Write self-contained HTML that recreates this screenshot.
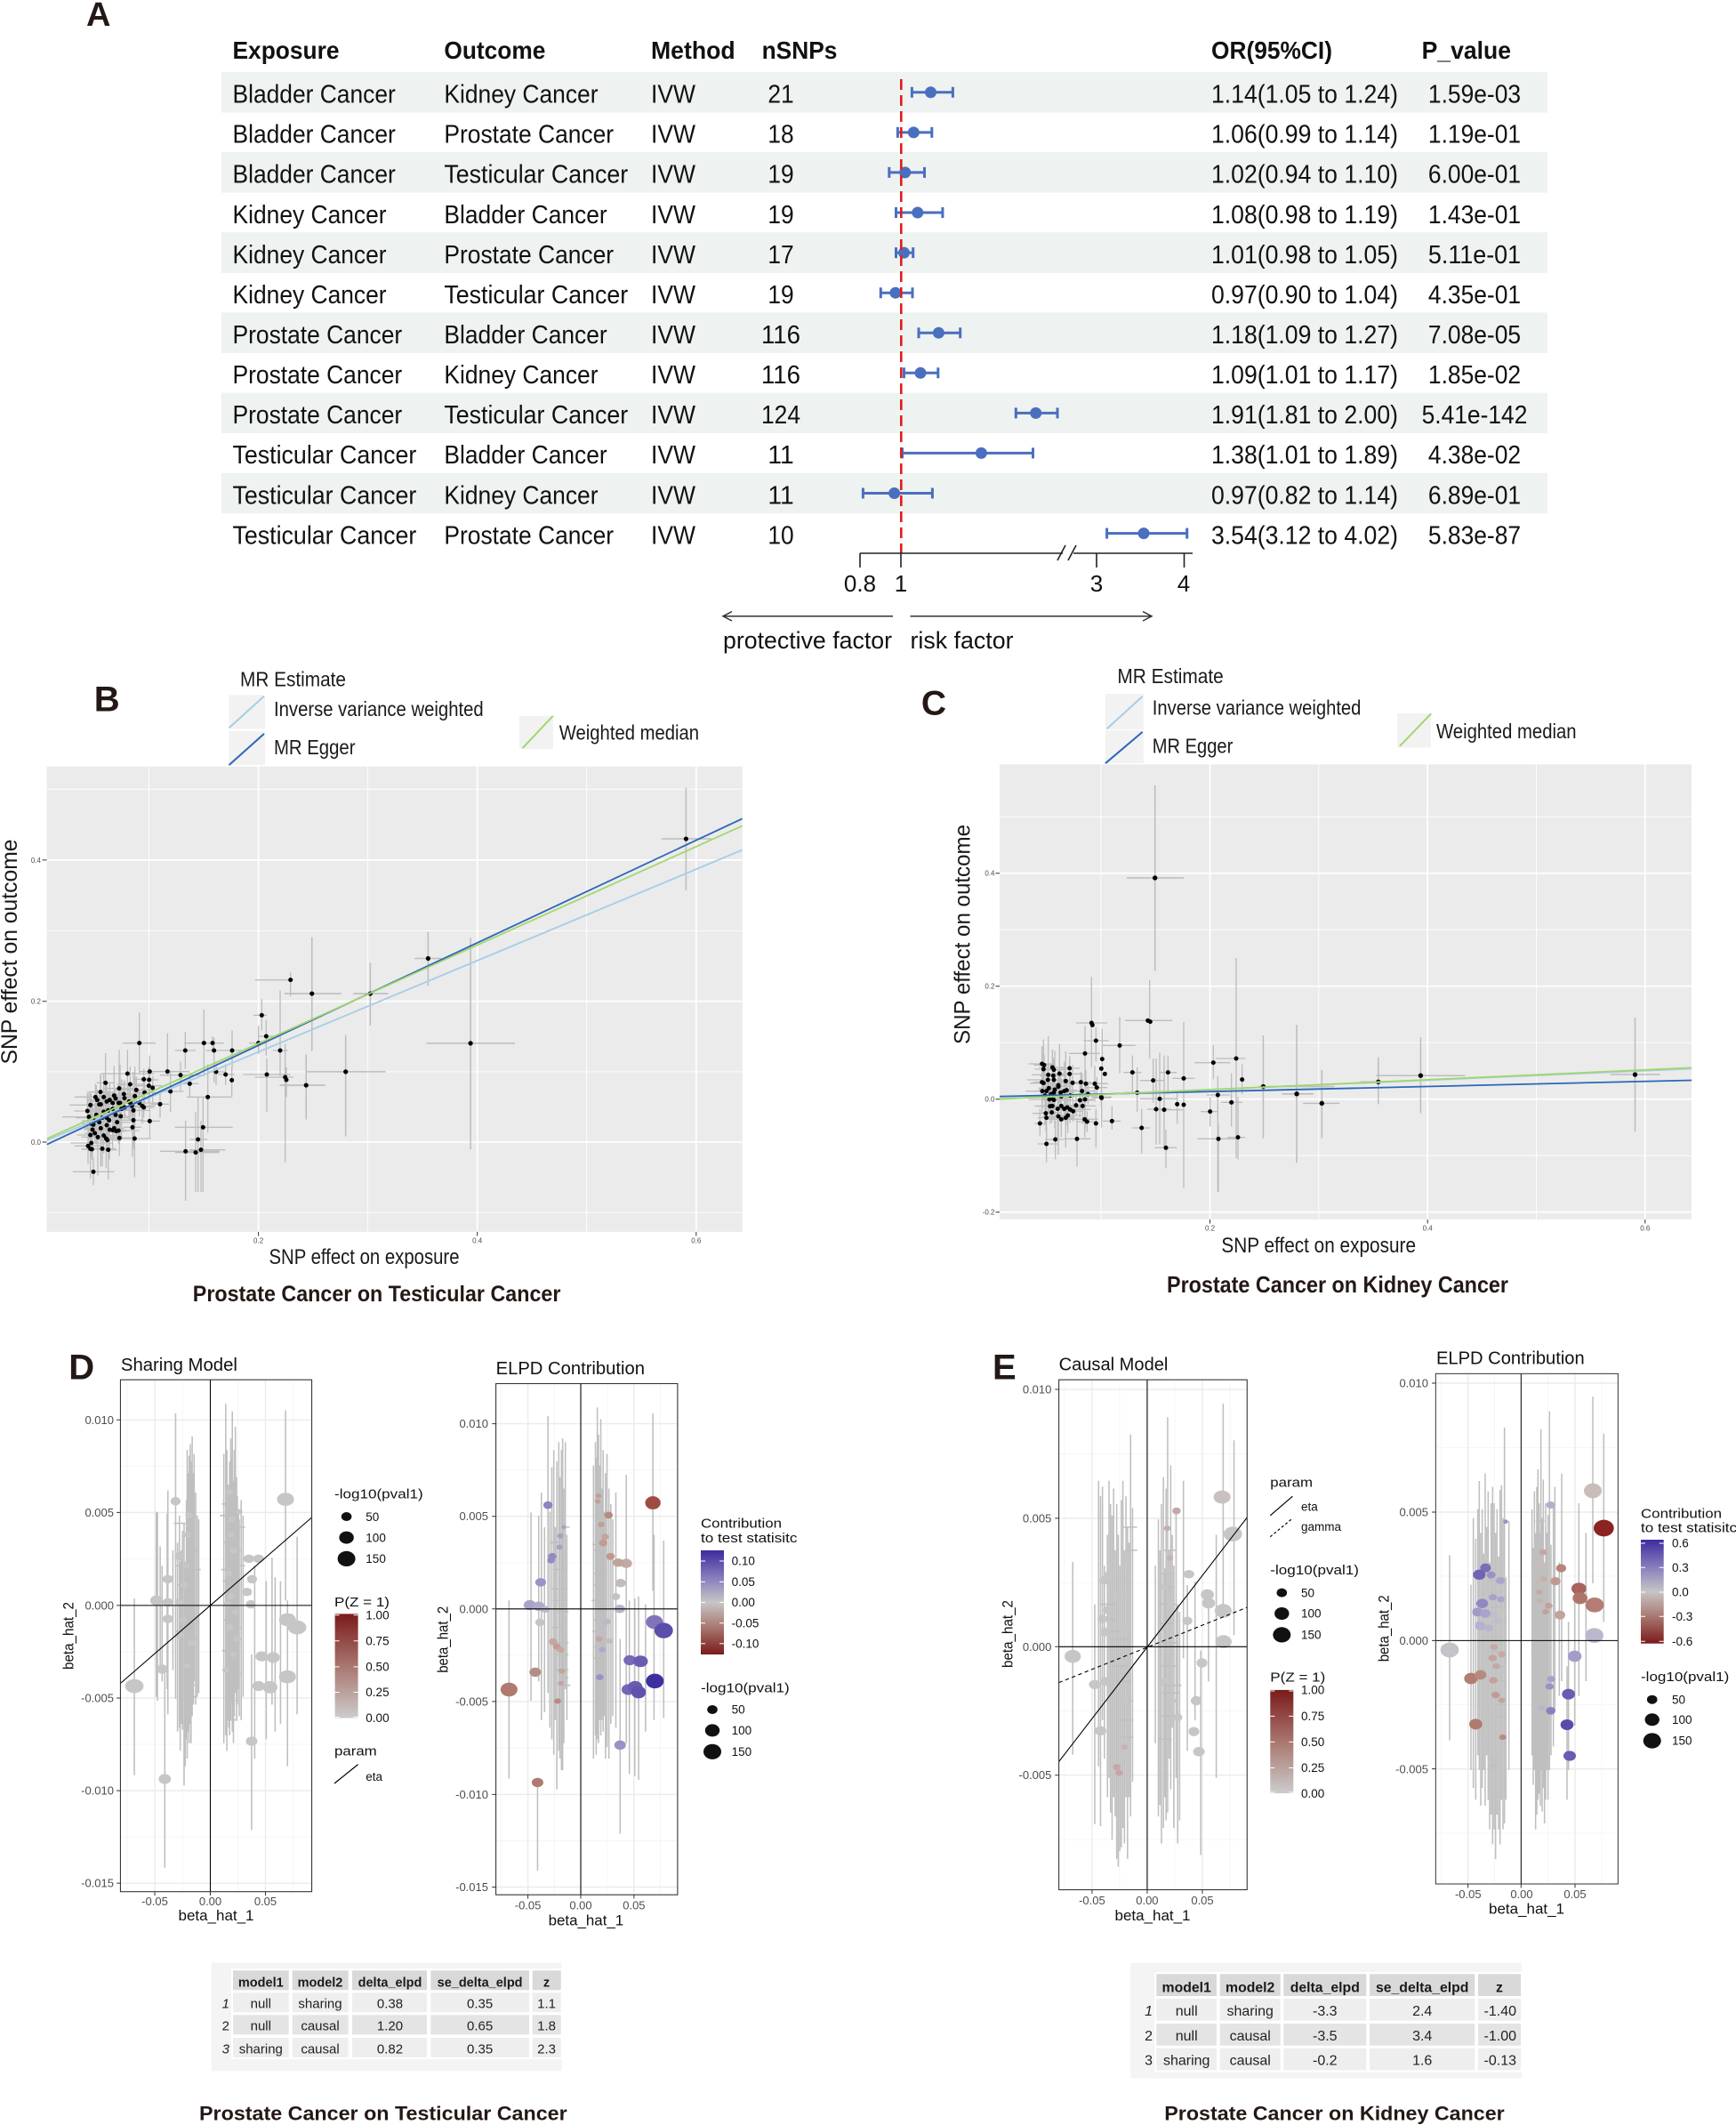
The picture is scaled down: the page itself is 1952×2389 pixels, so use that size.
<!DOCTYPE html>
<html><head><meta charset="utf-8"><style>
html,body{margin:0;padding:0;background:#fff;}
svg{display:block;}
text{font-family:"Liberation Sans",Arial,sans-serif;}
</style></head><body>
<svg xmlns="http://www.w3.org/2000/svg" width="1952" height="2389" viewBox="0 0 1952 2389">
<defs>
<linearGradient id="gr" x1="0" y1="0" x2="0" y2="1"><stop offset="0" stop-color="#7a1b1b"/><stop offset="0.5" stop-color="#a9766f"/><stop offset="1" stop-color="#cccccc"/></linearGradient>
<linearGradient id="gb" x1="0" y1="0" x2="0" y2="1"><stop offset="0" stop-color="#3d2c9e"/><stop offset="0.25" stop-color="#8479bb"/><stop offset="0.5" stop-color="#c6c6c6"/><stop offset="0.75" stop-color="#a7746d"/><stop offset="1" stop-color="#7a1b1b"/></linearGradient>
<path id="e1" d="M0 -60V60M-45 0H45"/>
<path id="e2" d="M0 -100V100M-30 0H30"/>
<path id="e3" d="M0 -45V45M-70 0H70"/>
<path id="e4" d="M0 -130V130M-55 0H55"/>
<path id="e5" d="M0 -80V80M-90 0H90"/>
<path id="e6" d="M0 -35V35M-35 0H35"/>
<circle id="d" r="7.5"/>
<clipPath id="cB"><rect x="52.6" y="861.7" width="782.2" height="523.2"/></clipPath>
<clipPath id="cC"><rect x="1124" y="859.4" width="778" height="511.6"/></clipPath>
</defs>
<rect width="1952" height="2389" fill="#fff"/>

<!-- ============ PANEL A ============ -->
<text x="97" y="29" font-size="38" font-weight="bold" fill="#231815">A</text>
<g fill="#eef2f0">
<rect x="249" y="81" width="1491" height="45.5"/>
<rect x="249" y="171.1" width="1491" height="45.5"/>
<rect x="249" y="261.3" width="1491" height="45.5"/>
<rect x="249" y="351.4" width="1491" height="45.5"/>
<rect x="249" y="441.6" width="1491" height="45.5"/>
<rect x="249" y="531.7" width="1491" height="45.5"/>
</g>
<g font-size="28" font-weight="bold" fill="#111">
<text x="261.5" y="66" textLength="120" lengthAdjust="spacingAndGlyphs">Exposure</text>
<text x="499.4" y="66" textLength="114" lengthAdjust="spacingAndGlyphs">Outcome</text>
<text x="732" y="66" textLength="94.6" lengthAdjust="spacingAndGlyphs">Method</text>
<text x="856.6" y="66" textLength="84.8" lengthAdjust="spacingAndGlyphs">nSNPs</text>
<text x="1362" y="66" textLength="136" lengthAdjust="spacingAndGlyphs">OR(95%CI)</text>
<text x="1598.6" y="66" textLength="100.4" lengthAdjust="spacingAndGlyphs">P_value</text>
</g>
<g font-size="29" fill="#111">
<text x="261.5" y="115.6" textLength="183.3" lengthAdjust="spacingAndGlyphs">Bladder Cancer</text>
<text x="261.5" y="160.7" textLength="183.3" lengthAdjust="spacingAndGlyphs">Bladder Cancer</text>
<text x="261.5" y="205.7" textLength="183.3" lengthAdjust="spacingAndGlyphs">Bladder Cancer</text>
<text x="261.5" y="250.8" textLength="173.1" lengthAdjust="spacingAndGlyphs">Kidney Cancer</text>
<text x="261.5" y="295.9" textLength="173.1" lengthAdjust="spacingAndGlyphs">Kidney Cancer</text>
<text x="261.5" y="341" textLength="173.1" lengthAdjust="spacingAndGlyphs">Kidney Cancer</text>
<text x="261.5" y="386" textLength="190.7" lengthAdjust="spacingAndGlyphs">Prostate Cancer</text>
<text x="261.5" y="431.1" textLength="190.7" lengthAdjust="spacingAndGlyphs">Prostate Cancer</text>
<text x="261.5" y="476.2" textLength="190.7" lengthAdjust="spacingAndGlyphs">Prostate Cancer</text>
<text x="261.5" y="521.2" textLength="206.8" lengthAdjust="spacingAndGlyphs">Testicular Cancer</text>
<text x="261.5" y="566.3" textLength="206.8" lengthAdjust="spacingAndGlyphs">Testicular Cancer</text>
<text x="261.5" y="611.4" textLength="206.8" lengthAdjust="spacingAndGlyphs">Testicular Cancer</text>

<text x="499.4" y="115.6" textLength="173.1" lengthAdjust="spacingAndGlyphs">Kidney Cancer</text>
<text x="499.4" y="160.7" textLength="190.7" lengthAdjust="spacingAndGlyphs">Prostate Cancer</text>
<text x="499.4" y="205.7" textLength="206.8" lengthAdjust="spacingAndGlyphs">Testicular Cancer</text>
<text x="499.4" y="250.8" textLength="183.3" lengthAdjust="spacingAndGlyphs">Bladder Cancer</text>
<text x="499.4" y="295.9" textLength="190.7" lengthAdjust="spacingAndGlyphs">Prostate Cancer</text>
<text x="499.4" y="341" textLength="206.8" lengthAdjust="spacingAndGlyphs">Testicular Cancer</text>
<text x="499.4" y="386" textLength="183.3" lengthAdjust="spacingAndGlyphs">Bladder Cancer</text>
<text x="499.4" y="431.1" textLength="173.1" lengthAdjust="spacingAndGlyphs">Kidney Cancer</text>
<text x="499.4" y="476.2" textLength="206.8" lengthAdjust="spacingAndGlyphs">Testicular Cancer</text>
<text x="499.4" y="521.2" textLength="183.3" lengthAdjust="spacingAndGlyphs">Bladder Cancer</text>
<text x="499.4" y="566.3" textLength="173.1" lengthAdjust="spacingAndGlyphs">Kidney Cancer</text>
<text x="499.4" y="611.4" textLength="190.7" lengthAdjust="spacingAndGlyphs">Prostate Cancer</text>

<text x="732" y="115.6" textLength="50" lengthAdjust="spacingAndGlyphs">IVW</text>
<text x="732" y="160.7" textLength="50" lengthAdjust="spacingAndGlyphs">IVW</text>
<text x="732" y="205.7" textLength="50" lengthAdjust="spacingAndGlyphs">IVW</text>
<text x="732" y="250.8" textLength="50" lengthAdjust="spacingAndGlyphs">IVW</text>
<text x="732" y="295.9" textLength="50" lengthAdjust="spacingAndGlyphs">IVW</text>
<text x="732" y="341" textLength="50" lengthAdjust="spacingAndGlyphs">IVW</text>
<text x="732" y="386" textLength="50" lengthAdjust="spacingAndGlyphs">IVW</text>
<text x="732" y="431.1" textLength="50" lengthAdjust="spacingAndGlyphs">IVW</text>
<text x="732" y="476.2" textLength="50" lengthAdjust="spacingAndGlyphs">IVW</text>
<text x="732" y="521.2" textLength="50" lengthAdjust="spacingAndGlyphs">IVW</text>
<text x="732" y="566.3" textLength="50" lengthAdjust="spacingAndGlyphs">IVW</text>
<text x="732" y="611.4" textLength="50" lengthAdjust="spacingAndGlyphs">IVW</text>
</g>
<g font-size="29" fill="#111" text-anchor="middle">
<text x="878" y="115.6" textLength="29.3" lengthAdjust="spacingAndGlyphs">21</text>
<text x="878" y="160.7" textLength="29.3" lengthAdjust="spacingAndGlyphs">18</text>
<text x="878" y="205.7" textLength="29.3" lengthAdjust="spacingAndGlyphs">19</text>
<text x="878" y="250.8" textLength="29.3" lengthAdjust="spacingAndGlyphs">19</text>
<text x="878" y="295.9" textLength="29.3" lengthAdjust="spacingAndGlyphs">17</text>
<text x="878" y="341" textLength="29.3" lengthAdjust="spacingAndGlyphs">19</text>
<text x="878" y="386" textLength="44" lengthAdjust="spacingAndGlyphs">116</text>
<text x="878" y="431.1" textLength="44" lengthAdjust="spacingAndGlyphs">116</text>
<text x="878" y="476.2" textLength="44" lengthAdjust="spacingAndGlyphs">124</text>
<text x="878" y="521.2" textLength="29.3" lengthAdjust="spacingAndGlyphs">11</text>
<text x="878" y="566.3" textLength="29.3" lengthAdjust="spacingAndGlyphs">11</text>
<text x="878" y="611.4" textLength="29.3" lengthAdjust="spacingAndGlyphs">10</text>

<text x="1658" y="115.6" textLength="104.2" lengthAdjust="spacingAndGlyphs">1.59e-03</text>
<text x="1658" y="160.7" textLength="104.2" lengthAdjust="spacingAndGlyphs">1.19e-01</text>
<text x="1658" y="205.7" textLength="104.2" lengthAdjust="spacingAndGlyphs">6.00e-01</text>
<text x="1658" y="250.8" textLength="104.2" lengthAdjust="spacingAndGlyphs">1.43e-01</text>
<text x="1658" y="295.9" textLength="104.2" lengthAdjust="spacingAndGlyphs">5.11e-01</text>
<text x="1658" y="341" textLength="104.2" lengthAdjust="spacingAndGlyphs">4.35e-01</text>
<text x="1658" y="386" textLength="104.2" lengthAdjust="spacingAndGlyphs">7.08e-05</text>
<text x="1658" y="431.1" textLength="104.2" lengthAdjust="spacingAndGlyphs">1.85e-02</text>
<text x="1658" y="476.2" textLength="118.8" lengthAdjust="spacingAndGlyphs">5.41e-142</text>
<text x="1658" y="521.2" textLength="104.2" lengthAdjust="spacingAndGlyphs">4.38e-02</text>
<text x="1658" y="566.3" textLength="104.2" lengthAdjust="spacingAndGlyphs">6.89e-01</text>
<text x="1658" y="611.4" textLength="104.2" lengthAdjust="spacingAndGlyphs">5.83e-87</text>
</g>
<g font-size="29" fill="#111">
<text x="1362" y="115.6" textLength="210" lengthAdjust="spacingAndGlyphs">1.14(1.05 to 1.24)</text>
<text x="1362" y="160.7" textLength="210" lengthAdjust="spacingAndGlyphs">1.06(0.99 to 1.14)</text>
<text x="1362" y="205.7" textLength="210" lengthAdjust="spacingAndGlyphs">1.02(0.94 to 1.10)</text>
<text x="1362" y="250.8" textLength="210" lengthAdjust="spacingAndGlyphs">1.08(0.98 to 1.19)</text>
<text x="1362" y="295.9" textLength="210" lengthAdjust="spacingAndGlyphs">1.01(0.98 to 1.05)</text>
<text x="1362" y="341" textLength="210" lengthAdjust="spacingAndGlyphs">0.97(0.90 to 1.04)</text>
<text x="1362" y="386" textLength="210" lengthAdjust="spacingAndGlyphs">1.18(1.09 to 1.27)</text>
<text x="1362" y="431.1" textLength="210" lengthAdjust="spacingAndGlyphs">1.09(1.01 to 1.17)</text>
<text x="1362" y="476.2" textLength="210" lengthAdjust="spacingAndGlyphs">1.91(1.81 to 2.00)</text>
<text x="1362" y="521.2" textLength="210" lengthAdjust="spacingAndGlyphs">1.38(1.01 to 1.89)</text>
<text x="1362" y="566.3" textLength="210" lengthAdjust="spacingAndGlyphs">0.97(0.82 to 1.14)</text>
<text x="1362" y="611.4" textLength="210" lengthAdjust="spacingAndGlyphs">3.54(3.12 to 4.02)</text>
</g>
<!-- forest -->
<path fill="none" stroke="#4a6fbf" stroke-width="3" d="M1025.4 103.8H1071.4M1025.4 97.8V109.8M1071.4 97.8V109.8
M1009.4 148.9H1047.8M1009.4 142.9V154.9M1047.8 142.9V154.9
M999.8 193.9H1039.5M999.8 187.9V199.9M1039.5 187.9V199.9
M1007.5 239H1059.9M1007.5 233V245M1059.9 233V245
M1007.5 284.1H1026.7M1007.5 278.1V290.1M1026.7 278.1V290.1
M990.3 329.2H1026M990.3 323.2V335.2M1026 323.2V335.2
M1033 374.2H1079.7M1033 368.2V380.2M1079.7 368.2V380.2
M1016.5 419.3H1054.8M1016.5 413.3V425.3M1054.8 413.3V425.3
M1142.3 464.4H1189M1142.3 458.4V470.4M1189 458.4V470.4
M1014.5 509.4H1161.5M1014.5 503.4V515.4M1161.5 503.4V515.4
M970.4 554.5H1048.4M970.4 548.5V560.5M1048.4 548.5V560.5
M1244.6 599.6H1334.7M1244.6 593.6V605.6M1334.7 593.6V605.6"/>
<g fill="#4a6fbf">
<circle cx="1046.5" cy="103.8" r="6.5"/><circle cx="1027.3" cy="148.9" r="6.5"/><circle cx="1017.7" cy="193.9" r="6.5"/>
<circle cx="1031.8" cy="239" r="6.5"/><circle cx="1016.5" cy="284.1" r="6.5"/><circle cx="1006.9" cy="329.2" r="6.5"/>
<circle cx="1055.4" cy="374.2" r="6.5"/><circle cx="1035" cy="419.3" r="6.5"/><circle cx="1164.7" cy="464.4" r="6.5"/>
<circle cx="1103.4" cy="509.4" r="6.5"/><circle cx="1005.6" cy="554.5" r="6.5"/><circle cx="1286" cy="599.6" r="6.5"/>
</g>
<line x1="1013.3" y1="89" x2="1013.3" y2="622" stroke="#e41a1c" stroke-width="2.6" stroke-dasharray="12 6"/>
<path fill="none" stroke="#222" stroke-width="1.6" d="M967 622H1195M1207 622H1341M967 622V638M1013 622V638M1233 622V638M1331.5 622V638M1189 630L1198 613M1201 630L1210 613"/>
<g font-size="26" fill="#111" text-anchor="middle">
<text x="967" y="665">0.8</text><text x="1013" y="665">1</text><text x="1233" y="665">3</text><text x="1331" y="665">4</text>
</g>
<path fill="none" stroke="#333" stroke-width="1.5" d="M813 692.8H1004M1023.5 692.8H1295M823 687.5L813 692.8L823 698M1285 687.5L1295 692.8L1285 698"/>
<text x="813" y="729" font-size="27" fill="#111" textLength="190" lengthAdjust="spacingAndGlyphs">protective factor</text>
<text x="1023.5" y="729" font-size="27" fill="#111" textLength="116" lengthAdjust="spacingAndGlyphs">risk factor</text>

<!-- ============ PANEL B ============ -->
<text x="105.7" y="799.4" font-size="40" font-weight="bold" fill="#231815">B</text>
<g font-size="23" fill="#1a1a1a">
<text x="270" y="771.7" textLength="119" lengthAdjust="spacingAndGlyphs">MR Estimate</text>
<text x="308" y="804.8" textLength="235.7" lengthAdjust="spacingAndGlyphs">Inverse variance weighted</text>
<text x="308" y="848.2" textLength="91.5" lengthAdjust="spacingAndGlyphs">MR Egger</text>
<text x="628.8" y="831.4" textLength="157.2" lengthAdjust="spacingAndGlyphs">Weighted median</text>
</g>
<rect x="257.5" y="781.5" width="40.5" height="38" fill="#f2f2f2"/>
<rect x="257.5" y="822" width="40.5" height="38" fill="#f2f2f2"/>
<rect x="584" y="804.8" width="38" height="37.4" fill="#f2f2f2"/>
<line x1="257.5" y1="818.4" x2="297" y2="782.6" stroke="#a6cde6" stroke-width="2"/>
<line x1="257.5" y1="860.1" x2="297" y2="824.9" stroke="#2c66b8" stroke-width="2"/>
<line x1="587.6" y1="841.1" x2="621.8" y2="804.8" stroke="#a3d66d" stroke-width="2"/>

<rect x="52.6" y="861.7" width="782.2" height="523.2" fill="#ebebeb"/>
<path stroke="#fff" stroke-width="0.9" fill="none" d="M167.5 861.7V1384.9M413.6 861.7V1384.9M659.7 861.7V1384.9M52.6 887.2H834.8M52.6 1046.6H834.8M52.6 1204.9H834.8M52.6 1363.2H834.8"/>
<path stroke="#fff" stroke-width="1.7" fill="none" d="M290.6 861.7V1384.9M536.7 861.7V1384.9M782.8 861.7V1384.9M52.6 966.9H834.8M52.6 1125.7H834.8M52.6 1284H834.8"/>
<path stroke="#333" stroke-width="1" fill="none" d="M47.5 966.9H52.6M47.5 1125.7H52.6M47.5 1284H52.6M290.6 1384.9V1389.5M536.7 1384.9V1389.5M782.8 1384.9V1389.5"/>
<g font-size="8" fill="#4d4d4d">
<text x="46" y="969.8" text-anchor="end">0.4</text><text x="46" y="1128.6" text-anchor="end">0.2</text><text x="46" y="1286.9" text-anchor="end">0.0</text>
<text x="290.6" y="1397.5" text-anchor="middle">0.2</text><text x="536.7" y="1397.5" text-anchor="middle">0.4</text><text x="782.8" y="1397.5" text-anchor="middle">0.6</text>
</g>
<g clip-path="url(#cB)">
<g transform="translate(0 730) scale(0.5421)">
<path stroke="#bdbdbd" stroke-width="2.8" fill="none" d="M1423 287V500M1372 393H1475M888 586V698M860 641H915M976 598V1037M884 817H1068M768 650V780M733 714H805M717 800V1010M636 876H800M647 597V833M590 714H708M635 840V975M580 904H675"/>
<g fill="#000"><circle cx="1423" cy="393" r="4.8"/><circle cx="888" cy="641" r="4.8"/><circle cx="976" cy="817" r="4.8"/><circle cx="768" cy="714" r="4.8"/><circle cx="717" cy="876" r="4.8"/><circle cx="647" cy="714" r="4.8"/><circle cx="635" cy="904" r="4.8"/></g>
</g>
<g transform="translate(80 1100) scale(0.33333)">
<g stroke="#bdbdbd" stroke-width="4" fill="none">
<path d="M230 115V320M175 218H285M385 180V305M350 243H420M448 105V330M380 218H515M477 195V245M440 218H515M482 200V350M455 243H510M543 175V305M505 243H580M643 70V175M615 124H660M632 160V255M600 218H660M658 140V260M630 195H690M705 40V330M680 243H730M660 270V450M580 324H740M722 220V620M620 333H750M726 300V400M461 290V520M390 400H540M445 400V720M350 502H545M428 400V720M400 543H460M386 480V750M300 583H500M420 450V720M350 587H500M438 480V720M400 578H520M325 185V330M255 314H400M369 280V380M300 326H440M335 310V450M300 381H380M300 380V470M270 424H330M489 280V360M460 315H520M521 290V360M495 324H550M542 300V400M400 320V400M370 355H430M265 260V400M230 314H300M263 300V420M235 342H295M275 330V420M248 330V440M215 385H285M265 420V540M235 481H300M740 -20V60M620 5H750"/>
<use href="#e6" x="245" y="340"/><use href="#e1" x="262" y="362"/><use href="#e2" x="215" y="397"/><use href="#e3" x="220" y="376"/><use href="#e1" x="199" y="357"/><use href="#e5" x="190" y="321"/><use href="#e4" x="162" y="371"/><use href="#e2" x="116" y="352"/><use href="#e1" x="99" y="383"/><use href="#e3" x="82" y="400"/><use href="#e6" x="88" y="410"/><use href="#e5" x="110" y="400"/><use href="#e1" x="130" y="410"/><use href="#e2" x="145" y="395"/><use href="#e6" x="150" y="405"/><use href="#e3" x="178" y="390"/><use href="#e1" x="180" y="404"/><use href="#e4" x="165" y="420"/><use href="#e6" x="140" y="420"/><use href="#e1" x="120" y="415"/><use href="#e2" x="100" y="425"/><use href="#e6" x="95" y="425"/><use href="#e3" x="65" y="427"/><use href="#e1" x="55" y="447"/><use href="#e5" x="60" y="467"/><use href="#e2" x="85" y="460"/><use href="#e6" x="110" y="450"/><use href="#e1" x="125" y="445"/><use href="#e3" x="140" y="440"/><use href="#e6" x="150" y="460"/><use href="#e2" x="170" y="440"/><use href="#e1" x="195" y="415"/><use href="#e6" x="205" y="430"/><use href="#e4" x="210" y="445"/><use href="#e3" x="230" y="420"/><use href="#e1" x="240" y="430"/><use href="#e6" x="245" y="435"/><use href="#e2" x="68" y="490"/><use href="#e1" x="80" y="480"/><use href="#e6" x="95" y="485"/><use href="#e5" x="105" y="470"/><use href="#e1" x="120" y="470"/><use href="#e3" x="128" y="478"/><use href="#e6" x="75" y="493"/><use href="#e4" x="100" y="505"/><use href="#e1" x="120" y="495"/><use href="#e2" x="130" y="510"/><use href="#e6" x="145" y="505"/><use href="#e1" x="155" y="485"/><use href="#e3" x="160" y="513"/><use href="#e6" x="152" y="515"/><use href="#e1" x="140" y="512"/><use href="#e2" x="72" y="510"/><use href="#e1" x="65" y="528"/><use href="#e6" x="80" y="522"/><use href="#e4" x="90" y="535"/><use href="#e1" x="110" y="530"/><use href="#e2" x="118" y="540"/><use href="#e6" x="122" y="545"/><use href="#e1" x="163" y="538"/><use href="#e2" x="207" y="502"/><use href="#e6" x="210" y="478"/><use href="#e4" x="214" y="540"/><use href="#e1" x="57" y="565"/><use href="#e2" x="65" y="575"/><use href="#e6" x="70" y="576"/><use href="#e3" x="68" y="555"/><use href="#e1" x="105" y="574"/><use href="#e2" x="125" y="578"/><use href="#e3" x="75" y="652"/><use href="#e6" x="167" y="465"/><use href="#e1" x="200" y="420"/><use href="#e6" x="180" y="435"/><use href="#e1" x="160" y="420"/>
</g>
<g fill="#000">
<use href="#d" x="230" y="218"/><use href="#d" x="385" y="243"/><use href="#d" x="448" y="218"/><use href="#d" x="477" y="218"/><use href="#d" x="482" y="243"/><use href="#d" x="543" y="243"/><use href="#d" x="643" y="124"/><use href="#d" x="632" y="218"/><use href="#d" x="658" y="195"/><use href="#d" x="705" y="243"/><use href="#d" x="660" y="324"/><use href="#d" x="722" y="333"/><use href="#d" x="726" y="342"/><use href="#d" x="461" y="400"/><use href="#d" x="445" y="502"/><use href="#d" x="428" y="543"/><use href="#d" x="386" y="583"/><use href="#d" x="420" y="587"/><use href="#d" x="438" y="578"/><use href="#d" x="325" y="314"/><use href="#d" x="369" y="326"/><use href="#d" x="335" y="381"/><use href="#d" x="300" y="424"/><use href="#d" x="489" y="315"/><use href="#d" x="521" y="324"/><use href="#d" x="542" y="343"/><use href="#d" x="400" y="355"/><use href="#d" x="265" y="314"/><use href="#d" x="263" y="342"/><use href="#d" x="275" y="369"/><use href="#d" x="248" y="385"/><use href="#d" x="265" y="481"/><use href="#d" x="740" y="5"/>
<use href="#d" x="245" y="340"/><use href="#d" x="262" y="362"/><use href="#d" x="215" y="397"/><use href="#d" x="220" y="376"/><use href="#d" x="199" y="357"/><use href="#d" x="190" y="321"/><use href="#d" x="162" y="371"/><use href="#d" x="116" y="352"/><use href="#d" x="99" y="383"/><use href="#d" x="82" y="400"/><use href="#d" x="88" y="410"/><use href="#d" x="110" y="400"/><use href="#d" x="130" y="410"/><use href="#d" x="145" y="395"/><use href="#d" x="150" y="405"/><use href="#d" x="178" y="390"/><use href="#d" x="180" y="404"/><use href="#d" x="165" y="420"/><use href="#d" x="140" y="420"/><use href="#d" x="120" y="415"/><use href="#d" x="100" y="425"/><use href="#d" x="95" y="425"/><use href="#d" x="65" y="427"/><use href="#d" x="55" y="447"/><use href="#d" x="60" y="467"/><use href="#d" x="85" y="460"/><use href="#d" x="110" y="450"/><use href="#d" x="125" y="445"/><use href="#d" x="140" y="440"/><use href="#d" x="150" y="460"/><use href="#d" x="170" y="440"/><use href="#d" x="195" y="415"/><use href="#d" x="205" y="430"/><use href="#d" x="210" y="445"/><use href="#d" x="230" y="420"/><use href="#d" x="240" y="430"/><use href="#d" x="245" y="435"/><use href="#d" x="68" y="490"/><use href="#d" x="80" y="480"/><use href="#d" x="95" y="485"/><use href="#d" x="105" y="470"/><use href="#d" x="120" y="470"/><use href="#d" x="128" y="478"/><use href="#d" x="75" y="493"/><use href="#d" x="100" y="505"/><use href="#d" x="120" y="495"/><use href="#d" x="130" y="510"/><use href="#d" x="145" y="505"/><use href="#d" x="155" y="485"/><use href="#d" x="160" y="513"/><use href="#d" x="152" y="515"/><use href="#d" x="140" y="512"/><use href="#d" x="72" y="510"/><use href="#d" x="65" y="528"/><use href="#d" x="80" y="522"/><use href="#d" x="90" y="535"/><use href="#d" x="110" y="530"/><use href="#d" x="118" y="540"/><use href="#d" x="122" y="545"/><use href="#d" x="163" y="538"/><use href="#d" x="207" y="502"/><use href="#d" x="210" y="478"/><use href="#d" x="214" y="540"/><use href="#d" x="57" y="565"/><use href="#d" x="65" y="575"/><use href="#d" x="70" y="576"/><use href="#d" x="68" y="555"/><use href="#d" x="105" y="574"/><use href="#d" x="125" y="578"/><use href="#d" x="75" y="652"/><use href="#d" x="167" y="465"/><use href="#d" x="200" y="420"/><use href="#d" x="180" y="435"/><use href="#d" x="160" y="420"/>
</g>
</g>
<line x1="52.6" y1="1282" x2="834.8" y2="955.5" stroke="#a6cde6" stroke-width="1.8"/>
<line x1="52.6" y1="1286.7" x2="834.8" y2="920.3" stroke="#2c66b8" stroke-width="1.8"/>
<line x1="52.6" y1="1280.2" x2="834.8" y2="928.4" stroke="#a3d66d" stroke-width="1.8"/>
</g>
<text transform="translate(19 1070) rotate(-90)" text-anchor="middle" font-size="25" fill="#1a1a1a" textLength="253" lengthAdjust="spacingAndGlyphs">SNP effect on outcome</text>
<text x="302.5" y="1421" font-size="24" fill="#1a1a1a" textLength="214" lengthAdjust="spacingAndGlyphs">SNP effect on exposure</text>
<text x="216.8" y="1463" font-size="25" font-weight="bold" fill="#231815" textLength="413.6" lengthAdjust="spacingAndGlyphs">Prostate Cancer on Testicular Cancer</text>

<!-- ============ PANEL C ============ -->
<text x="1035.9" y="803.5" font-size="39" font-weight="bold" fill="#231815">C</text>
<g font-size="23" fill="#1a1a1a">
<text x="1256.4" y="768.2" textLength="119.4" lengthAdjust="spacingAndGlyphs">MR Estimate</text>
<text x="1295.8" y="803.5" textLength="234.6" lengthAdjust="spacingAndGlyphs">Inverse variance weighted</text>
<text x="1295.8" y="846.4" textLength="90.5" lengthAdjust="spacingAndGlyphs">MR Egger</text>
<text x="1615" y="830" textLength="157.6" lengthAdjust="spacingAndGlyphs">Weighted median</text>
</g>
<rect x="1242.9" y="780" width="42.9" height="40" fill="#f2f2f2"/>
<rect x="1242.9" y="821" width="42.9" height="37" fill="#f2f2f2"/>
<rect x="1571" y="802" width="38" height="38.5" fill="#f2f2f2"/>
<line x1="1244.6" y1="819.4" x2="1284.6" y2="782.9" stroke="#a6cde6" stroke-width="2"/>
<line x1="1242.9" y1="858.2" x2="1284.6" y2="822.9" stroke="#2c66b8" stroke-width="2"/>
<line x1="1573.9" y1="838.8" x2="1609.2" y2="802.3" stroke="#a3d66d" stroke-width="2"/>

<rect x="1124" y="859.4" width="778" height="511.6" fill="#ebebeb"/>
<path stroke="#fff" stroke-width="0.9" fill="none" d="M1237.9 859.4V1371M1482.8 859.4V1371M1727.5 859.4V1371M1124 918.2H1902M1124 1045.2H1902M1124 1172.2H1902M1124 1299.2H1902"/>
<path stroke="#fff" stroke-width="1.7" fill="none" d="M1360.5 859.4V1371M1605.2 859.4V1371M1849.8 859.4V1371M1124 981.7H1902M1124 1108.7H1902M1124 1235.7H1902M1124 1362.7H1902"/>
<path stroke="#333" stroke-width="1" fill="none" d="M1119.5 981.7H1124M1119.5 1108.7H1124M1119.5 1235.7H1124M1119.5 1362.7H1124M1360.5 1371V1375.5M1605.2 1371V1375.5M1849.8 1371V1375.5"/>
<g font-size="8" fill="#4d4d4d">
<text x="1118.5" y="984.6" text-anchor="end">0.4</text><text x="1118.5" y="1111.6" text-anchor="end">0.2</text><text x="1118.5" y="1238.6" text-anchor="end">0.0</text><text x="1118.5" y="1365.6" text-anchor="end">-0.2</text>
<text x="1360.5" y="1383.5" text-anchor="middle">0.2</text><text x="1605.2" y="1383.5" text-anchor="middle">0.4</text><text x="1849.8" y="1383.5" text-anchor="middle">0.6</text>
</g>
<g clip-path="url(#cC)">
<g transform="translate(1030 730) scale(0.588)">
<path stroke="#bdbdbd" stroke-width="2.6" fill="none" d="M457 260V615M403 437H512M664 738V935M655 836H800M728 718V982M700 850H760M776 804V935M740 868H810M884 780V870M850 827H920M965 742V887M880 815H1050M1375 704V922M1328 813H1423"/>
<g fill="#000"><circle cx="457" cy="437" r="4.6"/><circle cx="664" cy="836" r="4.6"/><circle cx="728" cy="850" r="4.6"/><circle cx="776" cy="868" r="4.6"/><circle cx="884" cy="827" r="4.6"/><circle cx="965" cy="815" r="4.6"/><circle cx="1375" cy="813" r="4.6"/></g>
</g>
<g transform="translate(1150 1090) scale(0.33333)">
<g stroke="#bdbdbd" stroke-width="4" fill="none">
<path d="M232 25V330M180 180H285M428 35V300M345 172H505M247 195V310M205 240H290M327 160V350M270 256H380M210 190V380M155 283H260M268 200V330M370 290V420M340 347H400M490 290V420M460 347H520M543 177V737M505 367H580M440 300V450M395 374H480M386 330V480M340 415H440M643 255V370M580 314H700M720 -39V636M650 300H750M740 320V420M658 360V750M620 423H700M704 350V530M670 448H740M632 430V530M600 479H660M660 520V750M590 571H720M726 430V640M690 566H750M462 280V590M395 436H520M521 410V520M450 300V590M420 471H500M477 290V600M440 473H540M401 470V620M370 534H430M483 540V670M445 601H520M301 460V540M270 511H330M247 470V600M183 500V665M140 571H230M110 510V640M75 573H140M80 530V650M50 588H120M58 470V560M40 519H80"/>
<use href="#e6" x="217" y="513"/><use href="#e1" x="209" y="505"/><use href="#e2" x="80" y="500"/><use href="#e1" x="78" y="485"/><use href="#e6" x="98" y="482"/><use href="#e4" x="120" y="495"/><use href="#e1" x="130" y="505"/><use href="#e2" x="145" y="500"/><use href="#e6" x="140" y="470"/><use href="#e1" x="150" y="465"/><use href="#e3" x="160" y="472"/><use href="#e6" x="170" y="478"/><use href="#e1" x="152" y="492"/><use href="#e2" x="118" y="470"/><use href="#e6" x="100" y="460"/><use href="#e1" x="92" y="461"/><use href="#e5" x="130" y="460"/><use href="#e1" x="65" y="318"/><use href="#e6" x="72" y="322"/><use href="#e2" x="70" y="336"/><use href="#e1" x="100" y="330"/><use href="#e6" x="105" y="338"/><use href="#e4" x="86" y="355"/><use href="#e1" x="103" y="358"/><use href="#e2" x="124" y="351"/><use href="#e6" x="158" y="333"/><use href="#e1" x="158" y="352"/><use href="#e3" x="85" y="372"/><use href="#e1" x="105" y="372"/><use href="#e6" x="120" y="390"/><use href="#e2" x="145" y="376"/><use href="#e1" x="168" y="382"/><use href="#e6" x="196" y="380"/><use href="#e3" x="213" y="385"/><use href="#e1" x="243" y="385"/><use href="#e6" x="250" y="398"/><use href="#e2" x="65" y="380"/><use href="#e1" x="70" y="383"/><use href="#e6" x="88" y="400"/><use href="#e4" x="108" y="405"/><use href="#e1" x="120" y="395"/><use href="#e2" x="140" y="410"/><use href="#e6" x="148" y="407"/><use href="#e1" x="105" y="415"/><use href="#e3" x="80" y="410"/><use href="#e6" x="95" y="420"/><use href="#e1" x="66" y="410"/><use href="#e2" x="75" y="425"/><use href="#e6" x="100" y="435"/><use href="#e1" x="130" y="428"/><use href="#e5" x="160" y="425"/><use href="#e1" x="200" y="410"/><use href="#e6" x="220" y="420"/><use href="#e2" x="210" y="438"/><use href="#e1" x="193" y="441"/><use href="#e6" x="180" y="458"/><use href="#e1" x="202" y="460"/><use href="#e2" x="266" y="433"/><use href="#e6" x="265" y="430"/><use href="#e1" x="128" y="415"/><use href="#e3" x="90" y="438"/><use href="#e6" x="105" y="440"/>
</g>
<g fill="#000">
<use href="#d" x="232" y="180"/><use href="#d" x="235" y="187"/><use href="#d" x="422" y="172"/><use href="#d" x="430" y="176"/><use href="#d" x="247" y="240"/><use href="#d" x="327" y="256"/><use href="#d" x="210" y="283"/><use href="#d" x="268" y="302"/><use href="#d" x="265" y="334"/><use href="#d" x="277" y="352"/><use href="#d" x="370" y="347"/><use href="#d" x="490" y="347"/><use href="#d" x="543" y="367"/><use href="#d" x="440" y="374"/><use href="#d" x="386" y="415"/><use href="#d" x="643" y="314"/><use href="#d" x="720" y="300"/><use href="#d" x="740" y="371"/><use href="#d" x="658" y="423"/><use href="#d" x="704" y="448"/><use href="#d" x="632" y="479"/><use href="#d" x="660" y="571"/><use href="#d" x="726" y="566"/><use href="#d" x="462" y="436"/><use href="#d" x="521" y="454"/><use href="#d" x="543" y="456"/><use href="#d" x="450" y="471"/><use href="#d" x="477" y="473"/><use href="#d" x="401" y="534"/><use href="#d" x="483" y="601"/><use href="#d" x="301" y="511"/><use href="#d" x="247" y="519"/><use href="#d" x="183" y="571"/><use href="#d" x="110" y="573"/><use href="#d" x="80" y="588"/><use href="#d" x="58" y="519"/>
<use href="#d" x="217" y="513"/><use href="#d" x="209" y="505"/><use href="#d" x="80" y="500"/><use href="#d" x="78" y="485"/><use href="#d" x="98" y="482"/><use href="#d" x="120" y="495"/><use href="#d" x="130" y="505"/><use href="#d" x="145" y="500"/><use href="#d" x="140" y="470"/><use href="#d" x="150" y="465"/><use href="#d" x="160" y="472"/><use href="#d" x="170" y="478"/><use href="#d" x="152" y="492"/><use href="#d" x="118" y="470"/><use href="#d" x="100" y="460"/><use href="#d" x="92" y="461"/><use href="#d" x="130" y="460"/><use href="#d" x="65" y="318"/><use href="#d" x="72" y="322"/><use href="#d" x="70" y="336"/><use href="#d" x="100" y="330"/><use href="#d" x="105" y="338"/><use href="#d" x="86" y="355"/><use href="#d" x="103" y="358"/><use href="#d" x="124" y="351"/><use href="#d" x="158" y="333"/><use href="#d" x="158" y="352"/><use href="#d" x="85" y="372"/><use href="#d" x="105" y="372"/><use href="#d" x="120" y="390"/><use href="#d" x="145" y="376"/><use href="#d" x="168" y="382"/><use href="#d" x="196" y="380"/><use href="#d" x="213" y="385"/><use href="#d" x="243" y="385"/><use href="#d" x="250" y="398"/><use href="#d" x="65" y="380"/><use href="#d" x="70" y="383"/><use href="#d" x="88" y="400"/><use href="#d" x="108" y="405"/><use href="#d" x="120" y="395"/><use href="#d" x="140" y="410"/><use href="#d" x="148" y="407"/><use href="#d" x="105" y="415"/><use href="#d" x="80" y="410"/><use href="#d" x="95" y="420"/><use href="#d" x="66" y="410"/><use href="#d" x="75" y="425"/><use href="#d" x="100" y="435"/><use href="#d" x="130" y="428"/><use href="#d" x="160" y="425"/><use href="#d" x="200" y="410"/><use href="#d" x="220" y="420"/><use href="#d" x="210" y="438"/><use href="#d" x="193" y="441"/><use href="#d" x="180" y="458"/><use href="#d" x="202" y="460"/><use href="#d" x="266" y="433"/><use href="#d" x="265" y="430"/><use href="#d" x="128" y="415"/><use href="#d" x="90" y="438"/><use href="#d" x="105" y="440"/>
</g>
</g>
<line x1="1124" y1="1235.3" x2="1902" y2="1201.5" stroke="#a6cde6" stroke-width="1.8"/>
<line x1="1124" y1="1232.7" x2="1902" y2="1214.5" stroke="#2c66b8" stroke-width="1.8"/>
<line x1="1124" y1="1235.7" x2="1902" y2="1200.4" stroke="#a3d66d" stroke-width="1.8"/>
</g>
<text transform="translate(1090.6 1050.5) rotate(-90)" text-anchor="middle" font-size="25" fill="#1a1a1a" textLength="247" lengthAdjust="spacingAndGlyphs">SNP effect on outcome</text>
<text x="1373.4" y="1408" font-size="24" fill="#1a1a1a" textLength="218.6" lengthAdjust="spacingAndGlyphs">SNP effect on exposure</text>
<text x="1312" y="1453" font-size="26" font-weight="bold" fill="#231815" textLength="384" lengthAdjust="spacingAndGlyphs">Prostate Cancer on Kidney Cancer</text>

<!-- ============ PANEL D ============ -->
<text x="77.3" y="1550.7" font-size="40" font-weight="bold" fill="#231815">D</text>
<text x="135.9" y="1541.2" font-size="20" fill="#111" textLength="131" lengthAdjust="spacingAndGlyphs">Sharing Model</text>
<text x="557.6" y="1545.1" font-size="20" fill="#111" textLength="167.4" lengthAdjust="spacingAndGlyphs">ELPD Contribution</text>

<!-- D left plot -->
<g transform="translate(50 1500) scale(0.4337)">
<rect x="197" y="118" width="496" height="1327" fill="#fff"/>
<path stroke="#f3f3f3" stroke-width="1.8" fill="none" d="M214.5 118V1445M358 118V1445M501.5 118V1445M644.5 118V1445M197 342H693M197 582.5H693M197 823H693M197 1063H693M197 1303H693"/>
<path stroke="#ebebeb" stroke-width="3.2" fill="none" d="M286 118V1445M573 118V1445M197 222H693M197 462H693M197 943H693M197 1183H693M197 1423H693"/>
<path stroke="#bfbfbf" stroke-width="3.6" fill="none" d="M233 685V1143M312 870V1383M290 460V940M300 550V860M293 462V950M305 600V900M318 465V920M320 405V985M333 560V870M340 205V945M345 540V1030M350 470V1020M352 590V1080M355 560V1010M358 510V1025M362 490V1170M365 590V1120M368 430V1050M370 300V1100M372 360V1030M375 315V1060M378 285V1010M380 330V1060M383 265V990M386 360V960M388 310V900M392 410V960M396 470V940M400 480V930M465 310V1060M470 180V1040M473 300V1080M476 390V1000M478 400V1020M480 330V1040M483 270V1000M485 320V950M487 200V1030M490 380V1060M492 300V990M495 240V930M498 370V1000M500 420V960M503 460V920M505 480V990M510 430V1000M515 470V940M537 830V1285M545 600V1100M575 640V1050M590 580V960M598 630V1030M612 640V1010M625 197V690M630 690V1120M655 525V985
M335 490h30M340 600h25M345 650h35M350 700h40M355 720h30M340 770h35M360 790h35M350 860h30M365 880h30M355 910h35M370 940h25M375 560h25M380 610h25M460 440h30M455 470h25M465 540h35M470 560h40M458 610h30M462 640h30M470 690h35M465 740h40M468 760h40M472 780h35M460 820h35M470 840h30M480 880h30M470 950h25M475 1000h25M490 500h30M495 600h25"/>
<g fill="#c6c6c6">
<ellipse cx="625" cy="428" rx="22" ry="17"/><ellipse cx="233" cy="912" rx="24" ry="18"/><ellipse cx="630" cy="888" rx="22" ry="17"/><ellipse cx="655" cy="760" rx="24" ry="18"/><ellipse cx="630" cy="740" rx="22" ry="17"/><ellipse cx="312" cy="1153" rx="16" ry="13"/><ellipse cx="537" cy="1055" rx="15" ry="12"/><ellipse cx="593" cy="838" rx="17" ry="14"/><ellipse cx="563" cy="835" rx="16" ry="13"/><ellipse cx="585" cy="915" rx="19" ry="16"/><ellipse cx="555" cy="912" rx="16" ry="13"/><ellipse cx="555" cy="582" rx="14" ry="11"/><ellipse cx="530" cy="582" rx="14" ry="11"/><ellipse cx="538" cy="635" rx="13" ry="11"/><ellipse cx="525" cy="668" rx="13" ry="11"/><ellipse cx="535" cy="700" rx="13" ry="11"/><ellipse cx="290" cy="690" rx="16" ry="13"/><ellipse cx="320" cy="695" rx="14" ry="11"/><ellipse cx="320" cy="635" rx="14" ry="11"/><ellipse cx="320" cy="738" rx="14" ry="11"/><ellipse cx="305" cy="868" rx="14" ry="12"/><ellipse cx="350" cy="575" rx="13" ry="11"/><ellipse cx="340" cy="433" rx="13" ry="11"/><ellipse cx="348" cy="695" rx="11" ry="9"/><ellipse cx="375" cy="470" rx="10" ry="8"/><ellipse cx="372" cy="520" rx="10" ry="8"/><ellipse cx="368" cy="600" rx="10" ry="8"/><ellipse cx="362" cy="650" rx="10" ry="8"/><ellipse cx="360" cy="740" rx="10" ry="8"/><ellipse cx="350" cy="780" rx="10" ry="8"/><ellipse cx="380" cy="800" rx="10" ry="8"/><ellipse cx="370" cy="860" rx="9" ry="7"/><ellipse cx="480" cy="410" rx="10" ry="8"/><ellipse cx="485" cy="480" rx="10" ry="8"/><ellipse cx="490" cy="560" rx="10" ry="8"/><ellipse cx="478" cy="620" rx="10" ry="8"/><ellipse cx="483" cy="680" rx="10" ry="8"/><ellipse cx="495" cy="720" rx="9" ry="7"/><ellipse cx="480" cy="760" rx="10" ry="8"/><ellipse cx="500" cy="790" rx="9" ry="7"/><ellipse cx="490" cy="830" rx="9" ry="7"/><ellipse cx="470" cy="870" rx="9" ry="7"/><ellipse cx="505" cy="460" rx="9" ry="7"/><ellipse cx="485" cy="520" rx="9" ry="7"/><ellipse cx="475" cy="700" rx="10" ry="8"/>
</g>
<path stroke="#000" stroke-width="2.5" fill="none" d="M197 703H693M430 118V1445M197 905L693 475"/>
<rect x="197" y="118" width="496" height="1327" fill="none" stroke="#333" stroke-width="2.5"/>
<path stroke="#333" stroke-width="2.3" fill="none" d="M187 222H197M187 462H197M187 703H197M187 943H197M187 1183H197M187 1423H197M286 1445V1455M430 1445V1455M573 1445V1455"/>
</g>
<g font-size="13" fill="#4d4d4d" text-anchor="end">
<text x="128" y="1600.8">0.010</text><text x="128" y="1704.9">0.005</text><text x="128" y="1809.4">0.000</text><text x="128" y="1913.5">-0.005</text><text x="128" y="2017.5">-0.010</text><text x="128" y="2121.7">-0.015</text>
</g>
<g font-size="13" fill="#4d4d4d" text-anchor="middle">
<text x="174" y="2142">-0.05</text><text x="236.5" y="2142">0.00</text><text x="298.5" y="2142">0.05</text>
</g>
<text x="200.5" y="2159" font-size="17" fill="#111" textLength="85" lengthAdjust="spacingAndGlyphs">beta_hat_1</text>
<text transform="translate(82.5 1839) rotate(-90)" text-anchor="middle" font-size="17" fill="#111" textLength="76" lengthAdjust="spacingAndGlyphs">beta_hat_2</text>
<!-- D left legend -->
<g fill="#111">
<text x="376" y="1684.3" font-size="15" textLength="99.7" lengthAdjust="spacingAndGlyphs">-log10(pval1)</text>
<ellipse cx="389.6" cy="1705" rx="5.8" ry="5"/><ellipse cx="389.6" cy="1728.6" rx="8.2" ry="7"/><ellipse cx="389.6" cy="1752.4" rx="10" ry="8.6"/>
<text x="411.3" y="1709.8" font-size="13.5">50</text><text x="411.3" y="1733.3" font-size="13.5">100</text><text x="411.3" y="1757" font-size="13.5">150</text>
<text x="376" y="1805.8" font-size="15" textLength="62" lengthAdjust="spacingAndGlyphs">P(Z = 1)</text>
<text x="411.3" y="1820.4" font-size="13.5">1.00</text><text x="411.3" y="1849.5" font-size="13.5">0.75</text><text x="411.3" y="1878.6" font-size="13.5">0.50</text><text x="411.3" y="1907.2" font-size="13.5">0.25</text><text x="411.3" y="1936.2" font-size="13.5">0.00</text>
<text x="376" y="1973.6" font-size="15" textLength="47.7" lengthAdjust="spacingAndGlyphs">param</text>
<text x="411.3" y="2002" font-size="13.5">eta</text>
</g>
<rect x="376.6" y="1814.4" width="26" height="117.1" fill="url(#gr)"/>
<path stroke="#fff" stroke-width="1" d="M376.6 1815.7h5M397.6 1815.7h5M376.6 1844.8h5M397.6 1844.8h5M376.6 1873.9h5M397.6 1873.9h5M376.6 1902.5h5M397.6 1902.5h5M376.6 1930.5h5M397.6 1930.5h5"/>
<line x1="376" y1="2005" x2="402.6" y2="1983.6" stroke="#000" stroke-width="1.2"/>

<!-- D right plot -->
<g transform="translate(470 1500) scale(0.4337)">
<rect x="202" y="128" width="471" height="1325" fill="#fff"/>
<path stroke="#f3f3f3" stroke-width="1.8" fill="none" d="M216.5 128V1453M353.5 128V1453M491 128V1453M628.5 128V1453M202 352H673M202 592H673M202 832H673M202 1072H673M202 1313H673"/>
<path stroke="#ebebeb" stroke-width="3.2" fill="none" d="M285 128V1453M560 128V1453M202 232H673M202 472H673M202 952H673M202 1193H673M202 1433H673"/>
<path stroke="#bfbfbf" stroke-width="3.6" fill="none" d="M236 690V1152M310 1150V1390M293 462V950M313 470V900M320 410V1000M328 500V980M337 212V930M342 460V1020M347 345V1050M352 300V1090M356 500V1000M360 330V1180M365 280V1080M368 370V1100M372 300V1130M375 270V1130M378 400V1060M382 280V920M386 520V1000M455 340V1100M460 280V1040M462 320V1090M465 190V1050M468 260V1060M471 340V1000M474 220V1040M477 400V1000M480 300V1030M483 460V990M486 360V1100M490 310V1070M495 400V1100M500 440V1010M505 480V990M513 410V1020M524 790V1295M540 365V1060M548 690V1140M562 685V1145M572 680V1155M609 205V665M612 520V1000M637 535V995M590 700V1030
M340 540h30M350 610h35M345 660h40M350 690h35M360 720h30M345 760h30M350 800h40M360 830h30M355 870h35M365 890h25M370 910h25M378 500h15M455 430h25M452 545h30M455 560h30M455 620h35M455 650h30M450 690h30M455 740h35M452 770h30M460 790h30M455 810h30M455 840h25M458 880h25"/>
<ellipse cx="609" cy="437" rx="20" ry="17" fill="#9e4b43"/>
<ellipse cx="236" cy="921" rx="22" ry="18" fill="#b07a70"/>
<ellipse cx="613" cy="746" rx="22" ry="18" fill="#8273b8"/>
<ellipse cx="637" cy="768" rx="24" ry="20" fill="#5b4daa"/>
<ellipse cx="614" cy="899" rx="23" ry="19" fill="#3c2fa0"/>
<ellipse cx="549" cy="845" rx="16" ry="13" fill="#7868b6"/>
<ellipse cx="577" cy="848" rx="19" ry="15" fill="#6c5cb1"/>
<ellipse cx="545" cy="921" rx="17" ry="14" fill="#7465b4"/>
<ellipse cx="563" cy="915" rx="19" ry="16" fill="#6a5ab0"/>
<ellipse cx="572" cy="928" rx="19" ry="16" fill="#6152ad"/>
<ellipse cx="524" cy="1065" rx="15" ry="12" fill="#9a92c4"/>
<ellipse cx="310" cy="1162" rx="15" ry="12" fill="#b07a70"/>
<ellipse cx="304" cy="876" rx="15" ry="12" fill="#b38e86"/>
<ellipse cx="337" cy="443" rx="12" ry="10" fill="#9083c0"/>
<ellipse cx="318" cy="643" rx="14" ry="11" fill="#9d93c6"/>
<ellipse cx="290" cy="702" rx="16" ry="13" fill="#aaa3c8"/>
<ellipse cx="313" cy="705" rx="15" ry="12" fill="#b0aac8"/>
<ellipse cx="330" cy="713" rx="11" ry="9" fill="#bab6cc"/>
<ellipse cx="316" cy="747" rx="12" ry="10" fill="#c4c4c8"/>
<ellipse cx="348" cy="576" rx="11" ry="9" fill="#958bc2"/>
<ellipse cx="345" cy="586" rx="10" ry="8" fill="#958bc2"/>
<ellipse cx="369" cy="523" rx="8" ry="7" fill="#a8a0cc"/>
<ellipse cx="367" cy="552" rx="8" ry="7" fill="#a8a0cc"/>
<ellipse cx="378" cy="500" rx="6" ry="5" fill="#a8a0cc"/>
<ellipse cx="540" cy="594" rx="15" ry="12" fill="#c4aaa4"/>
<ellipse cx="519" cy="592" rx="14" ry="11" fill="#bfa49c"/>
<ellipse cx="499" cy="576" rx="11" ry="9" fill="#c0988c"/>
<ellipse cx="494" cy="469" rx="11" ry="9" fill="#b88a80"/>
<ellipse cx="475" cy="493" rx="9" ry="7" fill="#c0a098"/>
<ellipse cx="485" cy="525" rx="10" ry="8" fill="#c4a49c"/>
<ellipse cx="480" cy="541" rx="11" ry="9" fill="#c09c94"/>
<ellipse cx="468" cy="419" rx="8" ry="6" fill="#c0a098"/>
<ellipse cx="466" cy="433" rx="7" ry="6" fill="#c0a098"/>
<ellipse cx="525" cy="645" rx="14" ry="11" fill="#c4bcbc"/>
<ellipse cx="523" cy="712" rx="14" ry="11" fill="#bab4cc"/>
<ellipse cx="513" cy="680" rx="11" ry="9" fill="#c4c0c8"/>
<ellipse cx="490" cy="745" rx="10" ry="8" fill="#bcb8cc"/>
<ellipse cx="472" cy="762" rx="9" ry="7" fill="#c4bcc4"/>
<ellipse cx="480" cy="775" rx="9" ry="7" fill="#c4bcc4"/>
<ellipse cx="470" cy="790" rx="9" ry="7" fill="#c4a8a0"/>
<ellipse cx="497" cy="795" rx="9" ry="7" fill="#c4bcc4"/>
<ellipse cx="478" cy="818" rx="9" ry="7" fill="#b0a8cc"/>
<ellipse cx="471" cy="889" rx="10" ry="8" fill="#9a92c6"/>
<ellipse cx="362" cy="951" rx="9" ry="7" fill="#b88a80"/>
<ellipse cx="373" cy="873" rx="9" ry="7" fill="#c4a49c"/>
<ellipse cx="370" cy="905" rx="8" ry="6" fill="#c4a49c"/>
<ellipse cx="350" cy="797" rx="11" ry="9" fill="#c4a8a0"/>
<ellipse cx="360" cy="810" rx="10" ry="8" fill="#c09c94"/>
<ellipse cx="370" cy="818" rx="10" ry="8" fill="#c4a8a0"/>
<path stroke="#000" stroke-width="2.5" fill="none" d="M202 712H673M422 128V1453"/>
<rect x="202" y="128" width="471" height="1325" fill="none" stroke="#333" stroke-width="2.5"/>
<path stroke="#333" stroke-width="2.3" fill="none" d="M192 232H202M192 472H202M192 712H202M192 952H202M192 1193H202M192 1433H202M285 1453V1463M422 1453V1463M560 1453V1463"/>
</g>
<g font-size="13" fill="#4d4d4d" text-anchor="end">
<text x="549" y="1605.1">0.010</text><text x="549" y="1709.2">0.005</text><text x="549" y="1813.3">0.000</text><text x="549" y="1917.4">-0.005</text><text x="549" y="2021.9">-0.010</text><text x="549" y="2126">-0.015</text>
</g>
<g font-size="13" fill="#4d4d4d" text-anchor="middle">
<text x="593.6" y="2146.5">-0.05</text><text x="653" y="2146.5">0.00</text><text x="712.9" y="2146.5">0.05</text>
</g>
<text x="616.6" y="2164.4" font-size="17" fill="#111" textLength="84.6" lengthAdjust="spacingAndGlyphs">beta_hat_1</text>
<text transform="translate(503.5 1843.3) rotate(-90)" text-anchor="middle" font-size="17" fill="#111" textLength="75" lengthAdjust="spacingAndGlyphs">beta_hat_2</text>
<g fill="#111">
<text x="788" y="1717.7" font-size="15" textLength="91" lengthAdjust="spacingAndGlyphs">Contribution</text>
<text x="788" y="1734.2" font-size="15" textLength="108.4" lengthAdjust="spacingAndGlyphs">to test statisitc</text>
<text x="822.6" y="1759.7" font-size="13.5">0.10</text><text x="822.6" y="1783.1" font-size="13.5">0.05</text><text x="822.6" y="1806.1" font-size="13.5">0.00</text><text x="822.6" y="1829.5" font-size="13.5">-0.05</text><text x="822.6" y="1852.5" font-size="13.5">-0.10</text>
<text x="788" y="1902.5" font-size="15" textLength="99.7" lengthAdjust="spacingAndGlyphs">-log10(pval1)</text>
<ellipse cx="801" cy="1922" rx="5.8" ry="5"/><ellipse cx="801" cy="1945.4" rx="8.2" ry="7"/><ellipse cx="801" cy="1969.3" rx="10" ry="8.6"/>
<text x="822.6" y="1926.7" font-size="13.5">50</text><text x="822.6" y="1950.1" font-size="13.5">100</text><text x="822.6" y="1974" font-size="13.5">150</text>
</g>
<rect x="788" y="1742.9" width="26" height="117.1" fill="url(#gb)"/>
<path stroke="#fff" stroke-width="1" d="M788 1755h5M809 1755h5M788 1778.4h5M809 1778.4h5M788 1801.4h5M809 1801.4h5M788 1824.8h5M809 1824.8h5M788 1847.8h5M809 1847.8h5"/>

<!-- ============ PANEL E ============ -->
<text x="1116" y="1550.7" font-size="40" font-weight="bold" fill="#231815">E</text>
<text x="1190.6" y="1540.3" font-size="20" fill="#111" textLength="122.8" lengthAdjust="spacingAndGlyphs">Causal Model</text>
<text x="1615" y="1533.3" font-size="20" fill="#111" textLength="166.7" lengthAdjust="spacingAndGlyphs">ELPD Contribution</text>

<!-- E left plot -->
<g transform="translate(1090 1500) scale(0.4337)">
<rect x="232" y="118" width="488" height="1322" fill="#fff"/>
<path stroke="#f3f3f3" stroke-width="1.8" fill="none" d="M246.5 118V1440M389.5 118V1440M532.5 118V1440M675.5 118V1440M232 310H720M232 643.5H720M232 976.5H720M232 1310H720"/>
<path stroke="#ebebeb" stroke-width="3.2" fill="none" d="M318 118V1440M604 118V1440M232 143H720M232 477H720M232 1143H720"/>
<path stroke="#bfbfbf" stroke-width="3.6" fill="none" d="M268 590V1090M325 700V1270M335 380V1120M340 420V1275M345 395V1000M350 600V1100M358 520V1200M362 380V1150M366 440V1240M370 470V1310M374 400V1200M378 560V1250M382 440V1360M386 520V1380M390 600V1340M394 430V1330M398 380V1280M402 560V1320M406 420V1200M410 500V1360M414 540V1200M418 260V1250M423 450V1160M482 600V1060M490 480V1250M494 560V1220M498 440V1320M503 370V1280M507 620V1200M510 400V1260M514 215V1240M518 560V1100M522 340V1180M526 520V1020M530 600V1280M536 460V1150M540 700V1320M545 720V1260M555 380V840M565 650V1080M585 640V1000M600 820V1350M620 680V900M658 180V700M686 275V780M640 520V1150
M335 640h30M340 700h40M345 740h35M350 770h40M370 790h45M375 860h35M380 900h40M385 950h40M390 1000h35M395 1045h30M400 500h35M410 560h25M488 655h40M490 700h45M492 750h40M495 800h40M495 860h45M500 910h50M500 930h45M498 990h40M490 1050h35M495 620h35M505 560h30"/>
<g fill="#c6c6c6">
<ellipse cx="655" cy="422" rx="22" ry="17" fill="#c9c0c0"/><ellipse cx="683" cy="518" rx="24" ry="19"/><ellipse cx="658" cy="717" rx="22" ry="18"/><ellipse cx="659" cy="797" rx="21" ry="17"/><ellipse cx="617" cy="675" rx="17" ry="14"/><ellipse cx="620" cy="697" rx="17" ry="14"/><ellipse cx="569" cy="622" rx="14" ry="11"/><ellipse cx="565" cy="743" rx="13" ry="11"/><ellipse cx="603" cy="852" rx="14" ry="12"/><ellipse cx="588" cy="950" rx="14" ry="12"/><ellipse cx="582" cy="1030" rx="14" ry="12"/><ellipse cx="595" cy="1082" rx="15" ry="12"/><ellipse cx="540" cy="993" rx="12" ry="10"/><ellipse cx="537" cy="458" rx="11" ry="9" fill="#c4a8a8"/><ellipse cx="513" cy="503" rx="9" ry="7" fill="#c4b0b0"/><ellipse cx="520" cy="580" rx="9" ry="7" fill="#c4b4b4"/><ellipse cx="512" cy="612" rx="10" ry="8"/><ellipse cx="268" cy="835" rx="21" ry="17"/><ellipse cx="325" cy="908" rx="15" ry="12"/><ellipse cx="352" cy="900" rx="13" ry="11"/><ellipse cx="340" cy="1028" rx="15" ry="12"/><ellipse cx="350" cy="638" rx="13" ry="11"/><ellipse cx="365" cy="622" rx="13" ry="11"/><ellipse cx="360" cy="715" rx="13" ry="11"/><ellipse cx="345" cy="738" rx="13" ry="11"/><ellipse cx="352" cy="772" rx="13" ry="11"/><ellipse cx="382" cy="1122" rx="10" ry="8" fill="#c4a8a8"/><ellipse cx="388" cy="1137" rx="10" ry="8" fill="#c4a8a8"/><ellipse cx="402" cy="1070" rx="9" ry="7" fill="#c4b4b4"/><ellipse cx="410" cy="1100" rx="9" ry="7"/><ellipse cx="505" cy="655" rx="10" ry="8"/><ellipse cx="520" cy="700" rx="10" ry="8"/><ellipse cx="500" cy="760" rx="10" ry="8"/><ellipse cx="515" cy="820" rx="10" ry="8"/><ellipse cx="505" cy="900" rx="10" ry="8"/><ellipse cx="525" cy="950" rx="10" ry="8"/><ellipse cx="390" cy="680" rx="10" ry="8"/><ellipse cx="400" cy="760" rx="10" ry="8"/><ellipse cx="395" cy="850" rx="10" ry="8"/><ellipse cx="405" cy="950" rx="10" ry="8"/>
</g>
<path stroke="#000" stroke-width="2.5" fill="none" d="M232 810H720M461 118V1440M232 1108L720 475"/>
<path stroke="#000" stroke-width="2.5" fill="none" stroke-dasharray="10 8" d="M232 903L720 708"/>
<rect x="232" y="118" width="488" height="1322" fill="none" stroke="#333" stroke-width="2.5"/>
<path stroke="#333" stroke-width="2.3" fill="none" d="M222 143H232M222 477H232M222 810H232M222 1143H232M318 1440V1450M461 1440V1450M604 1440V1450"/>
</g>
<g font-size="13" fill="#4d4d4d" text-anchor="end">
<text x="1182.4" y="1566.5">0.010</text><text x="1182.4" y="1711.4">0.005</text><text x="1182.4" y="1855.8">0.000</text><text x="1182.4" y="2000.2">-0.005</text>
</g>
<g font-size="13" fill="#4d4d4d" text-anchor="middle">
<text x="1227.9" y="2141">-0.05</text><text x="1289.9" y="2141">0.00</text><text x="1352" y="2141">0.05</text>
</g>
<text x="1253.5" y="2159.2" font-size="17" fill="#111" textLength="85" lengthAdjust="spacingAndGlyphs">beta_hat_1</text>
<text transform="translate(1138.5 1837) rotate(-90)" text-anchor="middle" font-size="17" fill="#111" textLength="76" lengthAdjust="spacingAndGlyphs">beta_hat_2</text>
<g fill="#111">
<text x="1428.3" y="1671.3" font-size="15" textLength="47.7" lengthAdjust="spacingAndGlyphs">param</text>
<text x="1463" y="1698.5" font-size="13.5">eta</text>
<text x="1463" y="1721" font-size="13.5">gamma</text>
<text x="1428.3" y="1769.8" font-size="15" textLength="99.7" lengthAdjust="spacingAndGlyphs">-log10(pval1)</text>
<ellipse cx="1441.3" cy="1790.6" rx="5.8" ry="5"/><ellipse cx="1441.3" cy="1814" rx="8.2" ry="7"/><ellipse cx="1441.3" cy="1837.9" rx="10" ry="8.6"/>
<text x="1463" y="1795.3" font-size="13.5">50</text><text x="1463" y="1818.7" font-size="13.5">100</text><text x="1463" y="1842.6" font-size="13.5">150</text>
<text x="1428.3" y="1890.3" font-size="15" textLength="62" lengthAdjust="spacingAndGlyphs">P(Z = 1)</text>
<text x="1463" y="1904.7" font-size="13.5">1.00</text><text x="1463" y="1934.1" font-size="13.5">0.75</text><text x="1463" y="1963.1" font-size="13.5">0.50</text><text x="1463" y="1992.2" font-size="13.5">0.25</text><text x="1463" y="2020.8" font-size="13.5">0.00</text>
</g>
<line x1="1428.3" y1="1703.8" x2="1453.4" y2="1682.2" stroke="#000" stroke-width="1.2"/>
<line x1="1428.3" y1="1727.7" x2="1453.4" y2="1706.9" stroke="#000" stroke-width="1.2" stroke-dasharray="3 2.5"/>
<rect x="1428.3" y="1899.9" width="26" height="116.2" fill="url(#gr)"/>
<path stroke="#fff" stroke-width="1" d="M1428.3 1901h5M1449.3 1901h5M1428.3 1929.4h5M1449.3 1929.4h5M1428.3 1958.4h5M1449.3 1958.4h5M1428.3 1987.5h5M1449.3 1987.5h5M1428.3 2015h5M1449.3 2015h5"/>

<!-- E right plot -->
<g transform="translate(1500 1490) scale(0.33333)">
<rect x="343" y="163" width="615" height="1721" fill="#fff"/>
<path stroke="#f3f3f3" stroke-width="2.4" fill="none" d="M362 163V1884M541.5 163V1884M722 163V1884M903 163V1884M343 412H958M343 846H958M343 1280H958M343 1713H958"/>
<path stroke="#ebebeb" stroke-width="4.2" fill="none" d="M452 163V1884M813 163V1884M343 195H958M343 630H958M343 1496H958"/>
<path stroke="#bfbfbf" stroke-width="4.6" fill="none" d="M390 775V1400M462 875V1500M470 650V1560M478 720V1600M485 620V1450M490 525V1500M495 700V1620M500 620V1560M505 770V1500M510 500V1620M515 680V1450M520 560V1600M525 800V1700M530 600V1650M535 545V1750M540 600V1700M545 700V1800M550 620V1650M555 780V1700M560 555V1750M565 540V1600M570 650V1700M575 345V1680M580 850V1600M590 660V1500M668 620V1450M672 750V1550M676 560V1500M680 700V1700M684 545V1650M688 485V1600M692 600V1580M696 700V1620M698 350V1500M702 650V1640M706 520V1560M710 800V1680M714 600V1600M718 700V1500M722 640V1600M727 290V1500M732 740V1450M740 600V1420M745 545V1300M768 500V1200M812 900V1350M826 600V1250M873 240V870M910 365V1000M791 1000V1500M786 1150V1600M850 700V1200M760 800V1250
M520 860h40M525 900h45M530 950h40M528 1000h50M525 1050h45M530 1100h45M535 1150h40M540 1200h40M545 1280h35M548 1320h30M665 800h40M668 860h35M670 900h40M672 960h45M668 1000h40M665 1100h45M670 1150h40M668 1200h40M672 1250h35M680 660h30"/>
<ellipse cx="873" cy="558" rx="30" ry="25" fill="#c9bcb9"/>
<ellipse cx="910" cy="684" rx="34" ry="28" fill="#8b2323"/>
<ellipse cx="766" cy="819" rx="17" ry="14" fill="#b8857a"/>
<ellipse cx="747" cy="863" rx="17" ry="14" fill="#c09a90"/>
<ellipse cx="826" cy="888" rx="25" ry="20" fill="#a9625c"/>
<ellipse cx="830" cy="920" rx="25" ry="20" fill="#b0736a"/>
<ellipse cx="879" cy="943" rx="31" ry="25" fill="#b47d74"/>
<ellipse cx="878" cy="1046" rx="31" ry="25" fill="#bcb8cc"/>
<ellipse cx="762" cy="977" rx="18" ry="15" fill="#c2a49c"/>
<ellipse cx="812" cy="1116" rx="23" ry="19" fill="#a59cca"/>
<ellipse cx="791" cy="1244" rx="22" ry="18" fill="#6b5bb2"/>
<ellipse cx="786" cy="1347" rx="22" ry="18" fill="#5a4aaa"/>
<ellipse cx="795" cy="1452" rx="21" ry="17" fill="#6b5bb2"/>
<ellipse cx="731" cy="606" rx="15" ry="12" fill="#b3aecb"/>
<ellipse cx="731" cy="1300" rx="16" ry="13" fill="#8a80c0"/>
<ellipse cx="732" cy="1193" rx="14" ry="11" fill="#a8a2c8"/>
<ellipse cx="727" cy="1218" rx="14" ry="11" fill="#9a92c4"/>
<ellipse cx="706" cy="765" rx="13" ry="10" fill="#c4a8a0"/>
<ellipse cx="724" cy="946" rx="13" ry="10" fill="#c4a098"/>
<ellipse cx="714" cy="966" rx="12" ry="9" fill="#c0a29a"/>
<ellipse cx="690" cy="803" rx="12" ry="9" fill="#c8bcb8"/>
<ellipse cx="700" cy="806" rx="12" ry="9" fill="#c8bcb8"/>
<ellipse cx="707" cy="856" rx="13" ry="10" fill="#c8b0a8"/>
<ellipse cx="690" cy="863" rx="10" ry="8" fill="#c8b8b0"/>
<ellipse cx="693" cy="900" rx="12" ry="9" fill="#c4aca4"/>
<ellipse cx="695" cy="930" rx="12" ry="9" fill="#c4b4ac"/>
<ellipse cx="700" cy="1290" rx="12" ry="9" fill="#b8b4cc"/>
<ellipse cx="390" cy="1095" rx="31" ry="25" fill="#c3c3c8"/>
<ellipse cx="462" cy="1191" rx="23" ry="19" fill="#b27d72"/>
<ellipse cx="494" cy="1179" rx="20" ry="16" fill="#b78a80"/>
<ellipse cx="478" cy="1345" rx="22" ry="18" fill="#b07a70"/>
<ellipse cx="511" cy="818" rx="18" ry="15" fill="#7b6bb8"/>
<ellipse cx="490" cy="841" rx="21" ry="17" fill="#7262b3"/>
<ellipse cx="530" cy="842" rx="15" ry="12" fill="#9a92c6"/>
<ellipse cx="561" cy="861" rx="15" ry="12" fill="#aaa5cc"/>
<ellipse cx="500" cy="938" rx="20" ry="16" fill="#9189c2"/>
<ellipse cx="484" cy="967" rx="18" ry="15" fill="#a29bc8"/>
<ellipse cx="510" cy="972" rx="18" ry="15" fill="#aaa4cc"/>
<ellipse cx="493" cy="1013" rx="18" ry="15" fill="#b5b1ce"/>
<ellipse cx="521" cy="1021" rx="15" ry="12" fill="#b8b5cc"/>
<ellipse cx="536" cy="917" rx="14" ry="11" fill="#a8a2ca"/>
<ellipse cx="563" cy="924" rx="13" ry="10" fill="#aaa5cc"/>
<ellipse cx="540" cy="975" rx="13" ry="10" fill="#c0bdcc"/>
<ellipse cx="553" cy="995" rx="13" ry="10" fill="#c0bdcc"/>
<ellipse cx="579" cy="662" rx="8" ry="7" fill="#9a90c8"/>
<ellipse cx="540" cy="1085" rx="13" ry="10" fill="#c6aaa2"/>
<ellipse cx="566" cy="1110" rx="13" ry="10" fill="#c6aaa2"/>
<ellipse cx="535" cy="1122" rx="14" ry="11" fill="#c4a49c"/>
<ellipse cx="547" cy="1150" rx="13" ry="10" fill="#c4aaa2"/>
<ellipse cx="537" cy="1197" rx="14" ry="11" fill="#c4a098"/>
<ellipse cx="545" cy="1247" rx="14" ry="11" fill="#c29c94"/>
<ellipse cx="566" cy="1265" rx="12" ry="9" fill="#c4a49c"/>
<ellipse cx="535" cy="1465" rx="12" ry="9" fill="#c4c0c4"/>
<ellipse cx="569" cy="1389" rx="12" ry="9" fill="#b88a80"/>
<ellipse cx="537" cy="1487" rx="12" ry="9" fill="#c4bcc8"/>
<path stroke="#000" stroke-width="3" fill="none" d="M343 1063H958M631 163V1884"/>
<rect x="343" y="163" width="615" height="1721" fill="none" stroke="#333" stroke-width="3"/>
<path stroke="#333" stroke-width="3" fill="none" d="M330 195H343M330 630H343M330 1063H343M330 1496H343M452 1884V1897M631 1884V1897M813 1884V1897"/>
</g>
<g font-size="13" fill="#4d4d4d" text-anchor="end">
<text x="1606" y="1559.5">0.010</text><text x="1606" y="1704.5">0.005</text><text x="1606" y="1848.8">0.000</text><text x="1606" y="1993.3">-0.005</text>
</g>
<g font-size="13" fill="#4d4d4d" text-anchor="middle">
<text x="1650.8" y="2134">-0.05</text><text x="1711" y="2134">0.00</text><text x="1771" y="2134">0.05</text>
</g>
<text x="1674" y="2151.4" font-size="17" fill="#111" textLength="85" lengthAdjust="spacingAndGlyphs">beta_hat_1</text>
<text transform="translate(1561.7 1830.8) rotate(-90)" text-anchor="middle" font-size="17" fill="#111" textLength="75" lengthAdjust="spacingAndGlyphs">beta_hat_2</text>
<g fill="#111">
<text x="1845" y="1706.7" font-size="15" textLength="91" lengthAdjust="spacingAndGlyphs">Contribution</text>
<text x="1845" y="1722.7" font-size="15" textLength="108" lengthAdjust="spacingAndGlyphs">to test statisitc</text>
<text x="1880" y="1739.7" font-size="13.5">0.6</text><text x="1880" y="1767" font-size="13.5">0.3</text><text x="1880" y="1794.7" font-size="13.5">0.0</text><text x="1880" y="1822" font-size="13.5">-0.3</text><text x="1880" y="1850" font-size="13.5">-0.6</text>
<text x="1845" y="1890" font-size="15" textLength="99.3" lengthAdjust="spacingAndGlyphs">-log10(pval1)</text>
<ellipse cx="1857.7" cy="1910.7" rx="5.8" ry="5"/><ellipse cx="1857.7" cy="1933.3" rx="8.2" ry="7"/><ellipse cx="1857.7" cy="1957" rx="10" ry="8.6"/>
<text x="1880" y="1915.4" font-size="13.5">50</text><text x="1880" y="1938" font-size="13.5">100</text><text x="1880" y="1961.7" font-size="13.5">150</text>
</g>
<rect x="1845" y="1731" width="25.7" height="116.7" fill="url(#gb)"/>
<path stroke="#fff" stroke-width="1" d="M1845 1735h5M1865.7 1735h5M1845 1762.3h5M1865.7 1762.3h5M1845 1790h5M1865.7 1790h5M1845 1817.3h5M1865.7 1817.3h5M1845 1845.3h5M1865.7 1845.3h5"/>

<!-- ============ TABLES ============ -->
<rect x="237.7" y="2206.7" width="394" height="121.6" fill="#f4f4f4"/>
<g stroke="#fff" stroke-width="2">
<rect x="261" y="2214.3" width="64.7" height="24" fill="#d9d9d9"/><rect x="327.7" y="2214.3" width="65" height="24" fill="#d9d9d9"/><rect x="395" y="2214.3" width="86" height="24" fill="#d9d9d9"/><rect x="483.3" y="2214.3" width="112.7" height="24" fill="#d9d9d9"/><rect x="597.7" y="2214.3" width="34" height="24" fill="#d9d9d9"/>
<rect x="261" y="2239.3" width="64.7" height="24" fill="#eeeeee"/><rect x="327.7" y="2239.3" width="65" height="24" fill="#eeeeee"/><rect x="395" y="2239.3" width="86" height="24" fill="#eeeeee"/><rect x="483.3" y="2239.3" width="112.7" height="24" fill="#eeeeee"/><rect x="597.7" y="2239.3" width="34" height="24" fill="#eeeeee"/>
<rect x="261" y="2264.3" width="64.7" height="24" fill="#e4e4e4"/><rect x="327.7" y="2264.3" width="65" height="24" fill="#e4e4e4"/><rect x="395" y="2264.3" width="86" height="24" fill="#e4e4e4"/><rect x="483.3" y="2264.3" width="112.7" height="24" fill="#e4e4e4"/><rect x="597.7" y="2264.3" width="34" height="24" fill="#e4e4e4"/>
<rect x="261" y="2290" width="64.7" height="24" fill="#eeeeee"/><rect x="327.7" y="2290" width="65" height="24" fill="#eeeeee"/><rect x="395" y="2290" width="86" height="24" fill="#eeeeee"/><rect x="483.3" y="2290" width="112.7" height="24" fill="#eeeeee"/><rect x="597.7" y="2290" width="34" height="24" fill="#eeeeee"/>
</g>
<g font-size="14.5" font-weight="bold" fill="#1a1a1a" text-anchor="middle">
<text x="293.3" y="2233.3">model1</text><text x="360" y="2233.3">model2</text><text x="438.5" y="2233.3">delta_elpd</text><text x="539.6" y="2233.3">se_delta_elpd</text><text x="614.5" y="2233.3">z</text>
</g>
<g font-size="15" fill="#222">
<g text-anchor="end"><text x="258" y="2257.7" font-style="italic">1</text><text x="258" y="2282.7">2</text><text x="258" y="2308.3" font-style="italic">3</text>
<text x="625" y="2257.7">1.1</text><text x="625" y="2282.7">1.8</text><text x="625" y="2308.3">2.3</text></g>
<g text-anchor="middle">
<text x="293.3" y="2257.7">null</text><text x="360" y="2257.7">sharing</text><text x="438.5" y="2257.7">0.38</text><text x="539.6" y="2257.7">0.35</text>
<text x="293.3" y="2282.7">null</text><text x="360" y="2282.7">causal</text><text x="438.5" y="2282.7">1.20</text><text x="539.6" y="2282.7">0.65</text>
<text x="293.3" y="2308.3">sharing</text><text x="360" y="2308.3">causal</text><text x="438.5" y="2308.3">0.82</text><text x="539.6" y="2308.3">0.35</text>
</g>
</g>
<text x="224" y="2383.3" font-size="22" font-weight="bold" fill="#231815" textLength="413.7" lengthAdjust="spacingAndGlyphs">Prostate Cancer on Testicular Cancer</text>

<rect x="1271" y="2206.7" width="440" height="130" fill="#f4f4f4"/>
<g stroke="#fff" stroke-width="2">
<rect x="1299.3" y="2218.3" width="69.7" height="26.7" fill="#d9d9d9"/><rect x="1370.7" y="2218.3" width="70" height="26.7" fill="#d9d9d9"/><rect x="1442.3" y="2218.3" width="95" height="26.7" fill="#d9d9d9"/><rect x="1539" y="2218.3" width="120.3" height="26.7" fill="#d9d9d9"/><rect x="1661" y="2218.3" width="50" height="26.7" fill="#d9d9d9"/>
<rect x="1299.3" y="2246" width="69.7" height="26.7" fill="#eeeeee"/><rect x="1370.7" y="2246" width="70" height="26.7" fill="#eeeeee"/><rect x="1442.3" y="2246" width="95" height="26.7" fill="#eeeeee"/><rect x="1539" y="2246" width="120.3" height="26.7" fill="#eeeeee"/><rect x="1661" y="2246" width="50" height="26.7" fill="#eeeeee"/>
<rect x="1299.3" y="2274" width="69.7" height="26.7" fill="#e4e4e4"/><rect x="1370.7" y="2274" width="70" height="26.7" fill="#e4e4e4"/><rect x="1442.3" y="2274" width="95" height="26.7" fill="#e4e4e4"/><rect x="1539" y="2274" width="120.3" height="26.7" fill="#e4e4e4"/><rect x="1661" y="2274" width="50" height="26.7" fill="#e4e4e4"/>
<rect x="1299.3" y="2301.7" width="69.7" height="26.7" fill="#eeeeee"/><rect x="1370.7" y="2301.7" width="70" height="26.7" fill="#eeeeee"/><rect x="1442.3" y="2301.7" width="95" height="26.7" fill="#eeeeee"/><rect x="1539" y="2301.7" width="120.3" height="26.7" fill="#eeeeee"/><rect x="1661" y="2301.7" width="50" height="26.7" fill="#eeeeee"/>
</g>
<g font-size="15.8" font-weight="bold" fill="#1a1a1a" text-anchor="middle">
<text x="1334.2" y="2239.3">model1</text><text x="1405.7" y="2239.3">model2</text><text x="1489.8" y="2239.3">delta_elpd</text><text x="1599.2" y="2239.3">se_delta_elpd</text><text x="1686" y="2239.3">z</text>
</g>
<g font-size="16" fill="#222">
<g text-anchor="end"><text x="1296" y="2266" font-style="italic">1</text><text x="1296" y="2294">2</text><text x="1296" y="2321.7">3</text>
<text x="1705" y="2266">-1.40</text><text x="1705" y="2294">-1.00</text><text x="1705" y="2321.7">-0.13</text></g>
<g text-anchor="middle">
<text x="1334.2" y="2266">null</text><text x="1405.7" y="2266">sharing</text><text x="1489.8" y="2266">-3.3</text><text x="1599.2" y="2266">2.4</text>
<text x="1334.2" y="2294">null</text><text x="1405.7" y="2294">causal</text><text x="1489.8" y="2294">-3.5</text><text x="1599.2" y="2294">3.4</text>
<text x="1334.2" y="2321.7">sharing</text><text x="1405.7" y="2321.7">causal</text><text x="1489.8" y="2321.7">-0.2</text><text x="1599.2" y="2321.7">1.6</text>
</g>
</g>
<text x="1309.3" y="2383.3" font-size="22" font-weight="bold" fill="#231815" textLength="382.4" lengthAdjust="spacingAndGlyphs">Prostate Cancer on Kidney Cancer</text>
</svg>
</body></html>
